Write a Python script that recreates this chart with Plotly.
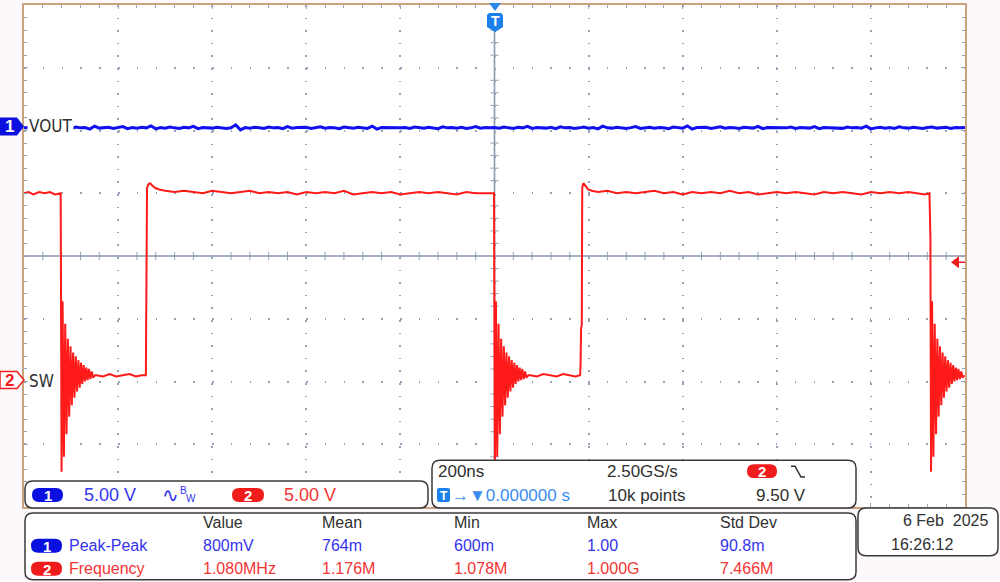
import plotly.graph_objects as go

# ---------------- data ----------------
TIME_PER_DIV_NS = 200
CH1_V_PER_DIV = 5.0
CH2_V_PER_DIV = 5.0
CH1_POS_DIV = 1.89
CH2_POS_DIV = -2.0
TRIG_LEVEL_V = 9.50

# CH1 (VOUT) samples, one every 10 ns
vout_t = list(range(-1000, 1001, 10))
vout_v = [0.76, 0.78, 0.74, 0.80, 0.76, 0.72, 0.78, 0.84, 0.74, 0.76,
          0.70, 0.82, 0.76, 0.78, 0.66, 0.90, 0.74, 0.78, 0.80, 0.72,
          0.76, 0.86, 0.70, 0.78, 0.74, 0.80, 0.76, 0.92, 0.68, 0.78,
          0.74, 0.82, 0.76, 0.72, 0.80, 0.76, 0.88, 0.70, 0.78, 0.76,
          0.74, 0.80, 0.78, 0.72, 0.76, 1.00, 0.60, 0.78, 0.74, 0.80,
          0.76, 0.72, 0.82, 0.76, 0.78, 0.70, 0.86, 0.74, 0.78, 0.76,
          0.80, 0.72, 0.76, 0.84, 0.74, 0.78, 0.76, 0.70, 0.82, 0.76,
          0.74, 0.80, 0.78, 0.72, 0.90, 0.66, 0.78, 0.76, 0.80, 0.74,
          0.76, 0.78, 0.72, 0.82, 0.76, 0.74, 0.80, 0.76, 0.70, 0.84,
          0.76, 0.78, 0.74, 0.80, 0.72, 0.76, 0.86, 0.74, 0.78, 0.76,
          0.78, 0.74, 0.82, 0.76, 0.72, 0.80, 0.76, 0.88, 0.72, 0.78,
          0.76, 0.74, 0.80, 0.70, 0.84, 0.76, 0.78, 0.72, 0.76, 0.82,
          0.74, 0.78, 0.68, 0.90, 0.76, 0.74, 0.80, 0.76, 0.72, 0.78,
          0.86, 0.72, 0.76, 0.80, 0.74, 0.78, 0.76, 0.70, 0.82, 0.76,
          0.74, 0.92, 0.66, 0.78, 0.76, 0.80, 0.72, 0.76, 0.84, 0.74,
          0.78, 0.76, 0.72, 0.80, 0.76, 0.74, 0.88, 0.70, 0.78, 0.76,
          0.80, 0.74, 0.76, 0.82, 0.72, 0.78, 0.76, 0.74, 0.86, 0.70,
          0.78, 0.76, 0.80, 0.74, 0.72, 0.82, 0.76, 0.78, 0.74, 0.90,
          0.68, 0.76, 0.80, 0.74, 0.78, 0.72, 0.84, 0.76, 0.74, 0.80,
          0.76, 0.72, 0.78, 0.82, 0.74, 0.76, 0.80, 0.72, 0.78, 0.76, 0.78]

# CH2 (SW) switch node: plateaus, edges and ringing
sw_fall_t = [-921.0, 0.0, 927.0]
ring_dt = [0.8, 3.0, 5.8, 8.6, 11.4, 14.2, 17.0, 19.8, 22.6, 25.4, 28.2, 31.0, 33.8,
           36.6, 39.4, 42.2, 45.0, 47.8, 50.6, 53.4, 56.2, 59.0, 62.0, 65.0, 68.0, 72.0]
ring_v = [-7.2, 6.4, -6.0, 4.6, -4.2, 3.4, -2.8, 2.8, -1.9, 2.3, -1.3, 2.0, -0.8,
          1.7, -0.5, 1.5, -0.2, 1.3, 0.0, 1.1, 0.1, 1.0, 0.2, 0.8, 0.3, 0.5]

hi1_t = [-1000, -990, -980, -968, -956, -945, -934, -922]
hi1_v = [15.0, 15.1, 14.9, 15.1, 15.0, 15.1, 14.9, 15.0]
lo1_t = [-846, -832, -818, -804, -790, -776, -762, -750, -741]
lo1_v = [0.5, 0.4, 0.6, 0.4, 0.5, 0.6, 0.4, 0.5, 0.5]
rise1_t = [-739.5, -738.5, -736, -732, -727, -720, -712]
rise1_v = [7.0, 15.4, 15.7, 15.8, 15.6, 15.4, 15.3]
hi2_t = [-700, -680, -660, -640, -620, -600, -580, -560, -540, -520, -500, -480,
         -460, -440, -420, -400, -380, -360, -340, -320, -300, -280, -260, -240,
         -220, -200, -180, -160, -140, -120, -100, -80, -60, -40, -20, -1]
hi2_v = [15.2, 15.1, 15.2, 15.1, 15.0, 15.2, 15.1, 15.0, 15.1, 15.2, 15.0, 15.1,
         15.0, 15.1, 14.9, 15.1, 15.0, 15.1, 15.0, 15.2, 14.9, 15.0, 15.1, 15.0,
         15.1, 14.9, 15.0, 15.1, 15.0, 15.1, 15.0, 14.9, 15.1, 15.0, 15.0, 15.0]
lo2_t = [76, 90, 104, 118, 132, 146, 160, 172, 182]
lo2_v = [0.5, 0.4, 0.6, 0.5, 0.4, 0.6, 0.5, 0.4, 0.5]
rise2_t = [183.0, 184.0, 185.5, 186.5, 189.0, 193.0, 199.0, 207.0]
rise2_v = [1.5, 4.2, 4.5, 15.5, 15.8, 15.6, 15.3, 15.2]
hi3_t = [220, 240, 260, 280, 300, 320, 340, 360, 380, 400, 420, 440, 460, 480,
         500, 520, 540, 560, 580, 600, 620, 640, 660, 680, 700, 720, 740, 760,
         780, 800, 820, 840, 860, 880, 900, 915, 924.5]
hi3_v = [15.1, 15.2, 15.0, 15.1, 15.0, 15.1, 15.2, 15.0, 15.1, 14.9, 15.1, 15.0,
         15.1, 15.0, 15.2, 15.0, 15.1, 14.9, 15.0, 15.1, 15.0, 15.1, 15.0, 14.9,
         15.1, 15.0, 15.1, 15.0, 14.9, 15.1, 15.0, 15.1, 15.0, 15.1, 15.0, 14.9, 15.0]
pre3_t = [925.5, 926.5]
pre3_v = [11.6, 11.4]

# readouts
ch_scale_txt = ["5.00 V", "5.00 V"]
timebase_txt = "200ns"
srate_txt = "2.50GS/s"
delay_txt = "→▼0.000000 s"
points_txt = "10k points"
trig_txt = "9.50 V"
meas_headers = ["Value", "Mean", "Min", "Max", "Std Dev"]
meas_names = ["Peak-Peak", "Frequency"]
meas_ch1 = ["800mV", "764m", "600m", "1.00", "90.8m"]
meas_ch2 = ["1.080MHz", "1.176M", "1.078M", "1.000G", "7.466M"]
date_txt = "6 Feb\u00a0 2025"
time_txt = "16:26:12"

# ---------------- assemble SW trace ----------------
def ring_at(t0):
    return [t0 + d for d in ring_dt], list(ring_v)

sw_t, sw_v = [], []
for tt, vv in [(hi1_t, hi1_v), ring_at(sw_fall_t[0]), (lo1_t, lo1_v), (rise1_t, rise1_v),
               (hi2_t, hi2_v), ring_at(sw_fall_t[1]), (lo2_t, lo2_v), (rise2_t, rise2_v),
               (hi3_t, hi3_v), (pre3_t, pre3_v), ring_at(sw_fall_t[2])]:
    sw_t += list(tt)
    sw_v += list(vv)

sw_div = [v / CH2_V_PER_DIV + CH2_POS_DIV for v in sw_v]
vout_div = [v / CH1_V_PER_DIV + CH1_POS_DIV for v in vout_v]

# ---------------- figure ----------------
W, H = 1000, 582
L, R, T, B = 24, 965, 3, 507
FONT = "Liberation Sans, Arial, sans-serif"
NARROW = "Liberation Sans Narrow, DejaVu Sans Condensed, Liberation Sans, sans-serif"
GRID = "#98a2b6"
BLUE_FILL = "#0a10e0"
RED_FILL = "#f01c1c"
BLUE_TXT = "#3434ee"
RED_TXT = "#f23434"
DARK = "#303030"


def px(x):
    return (x - L) / (R - L)


def py(y):
    return (B - y) / (B - T)


def rrect(x0, y0, x1, y1, r):
    P = lambda x, y: f"{px(x):.5f},{py(y):.5f}"
    return (f"M{P(x0 + r, y0)} L{P(x1 - r, y0)} Q{P(x1, y0)} {P(x1, y0 + r)} "
            f"L{P(x1, y1 - r)} Q{P(x1, y1)} {P(x1 - r, y1)} L{P(x0 + r, y1)} "
            f"Q{P(x0, y1)} {P(x0, y1 - r)} L{P(x0, y0 + r)} Q{P(x0, y0)} {P(x0 + r, y0)} Z")


def poly(pts, close=True):
    s = "M" + " L".join(f"{px(x):.5f},{py(y):.5f}" for x, y in pts)
    return s + (" Z" if close else "")


fig = go.Figure()

# center-line tick marks
hx = [t for t in range(-1000, 1001, 40) if t % 200 != 0]
vy = [k * 0.2 for k in range(-20, 21) if k % 5 != 0]
fig.add_trace(go.Scatter(x=hx, y=[0] * len(hx), mode="markers", hoverinfo="skip",
                         marker=dict(symbol="line-ns", size=6, line=dict(width=1, color=GRID))))
fig.add_trace(go.Scatter(x=[0] * len(vy), y=vy, mode="markers", hoverinfo="skip",
                         marker=dict(symbol="line-ew", size=6, line=dict(width=1, color=GRID))))

fig.add_trace(go.Scatter(x=vout_t, y=vout_div, mode="lines", hoverinfo="skip",
                         line=dict(color="#1010f0", width=3)))
fig.add_trace(go.Scatter(x=sw_t, y=sw_div, mode="lines", hoverinfo="skip",
                         line=dict(color="#ff1a1a", width=2)))

shapes = []
# center cross lines
shapes.append(dict(type="line", xref="x", yref="paper", x0=0, x1=0, y0=0, y1=py(29),
                   line=dict(color="#8a96ae", width=1.6), layer="below"))
shapes.append(dict(type="line", xref="paper", yref="y", x0=0, x1=1, y0=0, y1=0,
                   line=dict(color="#8a96ae", width=1.6), layer="below"))

def pshape(path, fill, line=None, lw=0):
    d = dict(type="path", xref="paper", yref="paper", path=path, fillcolor=fill, layer="above")
    d["line"] = dict(color=line or fill, width=lw)
    return d

# trigger marker at top
shapes.append(pshape(poly([(489, 1), (501, 1), (495, 9)]), "#2a88e8"))
shapes.append(pshape(poly([(487, 13), (489, 11), (501, 11), (503, 13), (503, 25), (495, 30), (487, 25)]), "#1c80ea"))
# channel markers
shapes.append(pshape(poly([(0, 116), (17, 116), (24, 125), (17, 134), (0, 134)]), BLUE_FILL))
shapes.append(pshape(poly([(0, 371), (17, 371), (24, 379.5), (17, 388), (0, 388)]), "white", RED_FILL, 1.5))
# trigger level arrow (right)
trig_y = B - (TRIG_LEVEL_V / CH2_V_PER_DIV + CH2_POS_DIV + 4) * (B - T) / 8
shapes.append(pshape(poly([(951, trig_y), (959, trig_y - 6), (959, trig_y + 6)]), RED_FILL))
shapes.append(dict(type="line", xref="paper", yref="paper", x0=px(958), x1=px(965), y0=py(trig_y), y1=py(trig_y),
                   line=dict(color=RED_FILL, width=1.5)))

# info boxes
for (x0, y0, x1, y1) in [(25, 481, 428, 508), (432, 460, 856, 508), (25, 513, 856, 580), (858, 508, 998, 556)]:
    shapes.append(pshape(rrect(x0, y0, x1, y1, 8), "white", "#3a3a3a", 1.5))

# pills
def pill(x0, y0, x1, y1, fill):
    shapes.append(pshape(rrect(x0, y0, x1, y1, (y1 - y0) / 2), fill))

pill(32, 488, 63, 502, BLUE_FILL)
pill(232, 488, 264, 502, RED_FILL)
pill(747, 464, 777, 478, RED_FILL)
pill(31, 539, 62, 553, BLUE_FILL)
pill(31, 562, 62, 576, RED_FILL)
shapes.append(pshape(rrect(437, 488, 450, 502, 2), "#1c80ea"))
# falling-edge icon
shapes.append(dict(type="path", xref="paper", yref="paper", layer="above",
                   path=poly([(791, 466), (795, 466), (801, 477), (805, 477)], close=False),
                   line=dict(color=DARK, width=1.5)))

ann = []

def txt(x, y, s, color=DARK, size=16, anchor="left", family=FONT, bg=None):
    d = dict(x=px(x), y=py(y), xref="paper", yref="paper", text=s, showarrow=False,
             xanchor=anchor, yanchor="middle", font=dict(family=family, size=size, color=color))
    if bg:
        d["bgcolor"] = bg
    ann.append(d)

# marker glyphs
txt(495, 19.5, "<b>T</b>", "white", 14, "center")
txt(9.5, 125, "<b>1</b>", "white", 17, "center")
txt(9.5, 379.5, "<b>2</b>", RED_FILL, 17, "center")
txt(27, 124, "VOUT", DARK, 17, "left", NARROW, bg="white")
txt(27, 380, "SW", DARK, 17, "left", NARROW)

# box 1
txt(47.5, 495, "<b>1</b>", "white", 15, "center")
txt(82, 494.5, ch_scale_txt[0], BLUE_TXT, 18)
txt(160, 494.5, "∿", BLUE_TXT, 20, "left", "DejaVu Sans")
txt(178, 490, "B", BLUE_TXT, 10)
txt(184, 498, "W", BLUE_TXT, 10)
txt(248, 495, "<b>2</b>", "white", 15, "center")
txt(282, 494.5, ch_scale_txt[1], RED_TXT, 18)

# box 2
txt(436, 471, timebase_txt, DARK, 17)
txt(605, 471, srate_txt, DARK, 17)
txt(762, 471.5, "<b>2</b>", "white", 15, "center")
txt(443.5, 495.5, "<b>T</b>", "white", 12, "center")
txt(450, 495, delay_txt, "#3a8cf0", 17)
txt(606, 495, points_txt, DARK, 17)
txt(754, 495, trig_txt, DARK, 17)

# box 3 (measurements)
cols = [201, 320, 452, 585, 718]
for c, h in zip(cols, meas_headers):
    txt(c, 523, h, DARK, 16)
txt(46.5, 546.5, "<b>1</b>", "white", 15, "center")
txt(46.5, 569.5, "<b>2</b>", "white", 15, "center")
txt(67, 546, meas_names[0], BLUE_TXT, 16)
txt(67, 569, meas_names[1], RED_TXT, 16)
for c, a, b in zip(cols, meas_ch1, meas_ch2):
    txt(c, 546, a, BLUE_TXT, 16)
    txt(c, 569, b, RED_TXT, 16)

# box 4 (date)
txt(991, 521, date_txt, DARK, 16, "right")
txt(889, 545, time_txt, DARK, 16)

fig.update_layout(
    width=W, height=H,
    margin=dict(l=L, r=W - R, t=T, b=H - B, pad=0),
    paper_bgcolor="#fcf8fc", plot_bgcolor="white",
    showlegend=False,
    shapes=shapes, annotations=ann,
    xaxis=dict(range=[-5 * TIME_PER_DIV_NS, 5 * TIME_PER_DIV_NS], tick0=0, dtick=TIME_PER_DIV_NS,
               showticklabels=False, showgrid=True, gridcolor=GRID, gridwidth=1.5,
               griddash="1.5px,11.1px", zeroline=False, showline=True, linecolor="#c9a27e",
               linewidth=2, mirror="allticks", ticks="inside", ticklen=4, tickcolor=GRID,
               minor=dict(dtick=TIME_PER_DIV_NS / 5, ticks="inside", ticklen=3, tickcolor=GRID, showgrid=False),
               fixedrange=True),
    yaxis=dict(range=[-4, 4], tick0=0, dtick=1,
               showticklabels=False, showgrid=True, gridcolor=GRID, gridwidth=1.5,
               griddash="1.5px,17.3px", zeroline=False, showline=True, linecolor="#c9a27e",
               linewidth=2, mirror="allticks", ticks="inside", ticklen=4, tickcolor=GRID,
               minor=dict(dtick=0.2, ticks="inside", ticklen=3, tickcolor=GRID, showgrid=False),
               fixedrange=True),
)

fig.write_html("out.html", config={"displayModeBar": False},
               post_script="document.body.style.margin='0';document.body.style.padding='0';"
                           "document.body.style.overflow='hidden';")
